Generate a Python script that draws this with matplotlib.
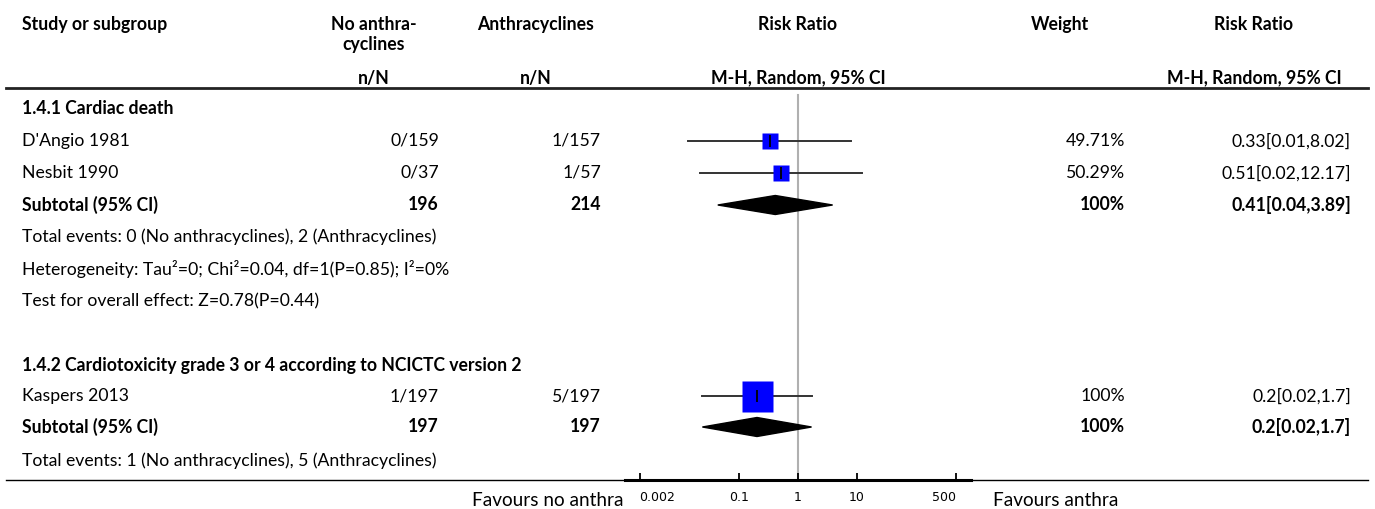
import matplotlib
matplotlib.use('Agg')
import matplotlib.pyplot as plt
from matplotlib.patches import Polygon

# ---------------- data ----------------
group_titles = ["1.4.1 Cardiac death",
                "1.4.2 Cardiotoxicity grade 3 or 4 according to NCICTC version 2"]
studies = ["D'Angio 1981", "Nesbit 1990", "Kaspers 2013"]
study_group = [0, 0, 1]
events_no = [0, 0, 1]
total_no = [159, 37, 197]
events_an = [1, 1, 5]
total_an = [157, 57, 197]
rr = [0.33, 0.51, 0.2]
rr_lo = [0.0136, 0.0214, 0.0235]
rr_hi = [8.02, 12.17, 1.7]
weights = [49.71, 50.29, 100]
rr_text = ["0.33[0.01,8.02]", "0.51[0.02,12.17]", "0.2[0.02,1.7]"]

sub_total_no = [196, 197]
sub_total_an = [214, 197]
sub_events_no = [0, 1]
sub_events_an = [2, 5]
sub_rr = [0.41, 0.2]
sub_lo = [0.043, 0.0235]
sub_hi = [3.89, 1.7]
sub_weight = [100, 100]
sub_text = ["0.41[0.04,3.89]", "0.2[0.02,1.7]"]
extra_lines = [["Heterogeneity: Tau\u00b2=0; Chi\u00b2=0.04, df=1(P=0.85); I\u00b2=0%",
                "Test for overall effect: Z=0.78(P=0.44)"], []]

ticks = [0.002, 0.1, 1, 10, 500]
tick_labels = ["0.002", "0.1", "1", "10", "500"]
left_label = "Favours no anthra"
right_label = "Favours anthra"

# ---------------- layout ----------------
W, H, DPI = 1375, 509, 100
fig = plt.figure(figsize=(W / DPI, H / DPI), dpi=DPI)
fig.patch.set_facecolor('white')
bg = fig.add_axes([0, 0, 1, 1])
bg.set_xlim(0, W)
bg.set_ylim(H, 0)
bg.axis('off')

FONT = ['Lato', 'DejaVu Sans']
renderer = fig.canvas.get_renderer()


def fit_size(text, target, weight='normal', family=FONT):
    t = fig.text(0, 0, text, fontsize=10, family=family, weight=weight)
    w = t.get_window_extent(renderer).width
    t.remove()
    return 10 * target / w


FS = fit_size("Total events: 0 (No anthracyclines), 2 (Anthracyclines)", 415)
FS_FAV = fit_size(right_label, 125)


def txt(x, y, s, ha='left', bold=False, size=None):
    bg.text(x, y, s, ha=ha, va='center', family=FONT,
            fontsize=size or FS, weight='bold' if bold else 'normal',
            color='black')


X_STUDY = 22
X_NO = 439
X_NO_C = 374
X_AN = 601
X_AN_C = 535.5
X_RR_C = 798
X_W = 1125
X_W_C = 1060
X_RRT = 1351
X_RRT_C = 1254

# header
txt(X_STUDY, 24, "Study or subgroup", bold=True)
txt(X_NO_C, 24, "No anthra-", ha='center', bold=True)
txt(X_NO_C, 44, "cyclines", ha='center', bold=True)
txt(X_AN_C, 24, "Anthracyclines", ha='center', bold=True)
txt(X_RR_C, 24, "Risk Ratio", ha='center', bold=True)
txt(X_W_C, 24, "Weight", ha='center', bold=True)
txt(X_RRT_C, 24, "Risk Ratio", ha='center', bold=True)
txt(X_NO_C, 78, "n/N", ha='center', bold=True)
txt(X_AN_C, 78, "n/N", ha='center', bold=True)
txt(X_RR_C, 78, "M-H, Random, 95% CI", ha='center', bold=True)
txt(X_RRT_C, 78, "M-H, Random, 95% CI", ha='center', bold=True)
bg.plot([6, 1368], [88, 88], color='#222222', lw=2)
bg.plot([6, 1368], [480, 480], color='black', lw=1)

# forest axes
AX_L, AX_R, AX_T, AX_B = 625, 971, 88, 480
ax = fig.add_axes([AX_L / W, (H - AX_B) / H, (AX_R - AX_L) / W, (AX_B - AX_T) / H])
ax.patch.set_alpha(0)
ax.set_xscale('log')
ax.set_xlim(10 ** -2.947, 10 ** 2.947)
ax.set_ylim(AX_B, AX_T)
for s in ['top', 'left', 'right']:
    ax.spines[s].set_visible(False)
ax.spines['bottom'].set_linewidth(2.2)
ax.set_yticks([])
ax.set_xticks(ticks)
ax.set_xticklabels(tick_labels)
ax.xaxis.set_minor_locator(matplotlib.ticker.NullLocator())
ax.tick_params(axis='x', direction='in', length=5, width=1.3, pad=8,
               labelsize=9, colors='black')
for lab in ax.get_xticklabels():
    lab.set_family('DejaVu Sans')
labs = ax.get_xticklabels()
labs[0].set_ha('left')
labs[-1].set_ha('right')
ax.plot([1, 1], [95, AX_B], color='#b0b0b0', lw=1.5, zorder=1, clip_on=False)

txt(624, 500, left_label, ha='right', size=FS_FAV)
txt(993, 500, right_label, ha='left', size=FS_FAV)

# rows
group_rows = [[108, [141, 173], 205, 237, [269, 301]],
              [366, [396], 427, 461, []]]
SQ_FULL = 31  # px side for 100% weight
HALF_D = 9.5

for g in range(2):
    ty, sy, suby, evy, exy = group_rows[g]
    txt(X_STUDY, ty, group_titles[g], bold=True)
    idx = [i for i in range(len(studies)) if study_group[i] == g]
    for k, i in enumerate(idx):
        y = sy[k]
        txt(X_STUDY, y, studies[i])
        txt(X_NO, y, f"{events_no[i]}/{total_no[i]}", ha='right')
        txt(X_AN, y, f"{events_an[i]}/{total_an[i]}", ha='right')
        txt(X_W, y, f"{weights[i]:g}%", ha='right')
        txt(X_RRT, y, rr_text[i], ha='right')
        ax.plot([rr_lo[i], rr_hi[i]], [y, y], color='#333333', lw=1.4,
                zorder=2, clip_on=False)
        side_pt = SQ_FULL * weights[i] / 100 * 72 / DPI
        ax.plot([rr[i]], [y], marker='s', ms=side_pt, color='#0000ff',
                mec='none', zorder=3, clip_on=False)
        ax.plot([rr[i]], [y], marker='|', ms=8, mew=1.3, color='black',
                zorder=4, clip_on=False)
    # subtotal
    txt(X_STUDY, suby, "Subtotal (95% CI)", bold=True)
    txt(X_NO, suby, f"{sub_total_no[g]}", ha='right', bold=True)
    txt(X_AN, suby, f"{sub_total_an[g]}", ha='right', bold=True)
    txt(X_W, suby, f"{sub_weight[g]:g}%", ha='right', bold=True)
    txt(X_RRT, suby, sub_text[g], ha='right', bold=True)
    ax.add_patch(Polygon([(sub_lo[g], suby), (sub_rr[g], suby - HALF_D),
                          (sub_hi[g], suby), (sub_rr[g], suby + HALF_D)],
                         closed=True, color='black', zorder=3, clip_on=False))
    txt(X_STUDY, evy, f"Total events: {sub_events_no[g]} (No anthracyclines), "
                      f"{sub_events_an[g]} (Anthracyclines)")
    for line, y in zip(extra_lines[g], exy):
        txt(X_STUDY, y, line)

fig.savefig('out.png', dpi=DPI, facecolor='white')
